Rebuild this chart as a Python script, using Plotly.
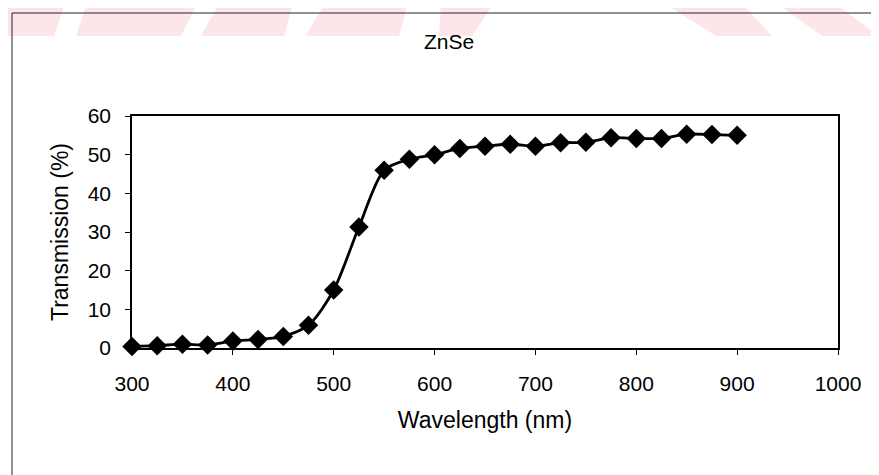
import plotly.graph_objects as go

# ---- data ----
wavelength_nm = [300, 325, 350, 375, 400, 425, 450, 475, 500, 525, 550, 575, 600,
                 625, 650, 675, 700, 725, 750, 775, 800, 825, 850, 875, 900]
transmission_pct = [0.4, 0.6, 1.0, 0.8, 1.8, 2.2, 3.0, 5.9, 15.0, 31.3, 46.0, 48.8, 50.0,
                    51.6, 52.2, 52.7, 52.2, 53.1, 53.2, 54.4, 54.2, 54.2, 55.3, 55.2, 55.0]
x_ticks = [300, 400, 500, 600, 700, 800, 900, 1000]
y_ticks = [0, 10, 20, 30, 40, 50, 60]
chart_title = "ZnSe"
x_title = "Wavelength (nm)"
y_title = "Transmission (%)"

OFF = 8  # page body margin
W, H = 879 - OFF, 475 - OFF
L, R, T, B = 132 - OFF, 41, 116 - OFF, 127
PW, PH = W - L - R, H - T - B

def px(x, y):
    """page pixel -> paper coordinates"""
    x, y = x - OFF, y - OFF
    return (x - L) / PW, (H - B - y) / PH

FONT = "Liberation Sans, Arial, sans-serif"

fig = go.Figure()
fig.add_trace(go.Scatter(
    x=wavelength_nm, y=transmission_pct, mode="lines+markers",
    line=dict(color="black", width=2.8, shape="spline", smoothing=0.8),
    marker=dict(symbol="diamond", size=15, color="black"),
    cliponaxis=False, showlegend=False, hoverinfo="x+y"))

shapes = []
# faint pink watermark stripes along the top edge
pink = "#fde6ea"
stripes = [
    ((0, 66), (0, 54)), ((88, 199), (76, 181)), ((221, 294), (201, 284)),
    ((326, 409), (306, 399)), ((441, 496), (439, 472)),
    ((659, 739), (716, 772)), ((772, 830), (822, 879)),
]
for (t0, t1), (b0, b1) in stripes:
    pts = [px(t0, 0), px(t1, 0), px(b1, 36), px(b0, 36)]
    path = "M " + " L ".join(f"{a},{b}" for a, b in pts) + " Z"
    shapes.append(dict(type="path", xref="paper", yref="paper", path=path,
                       fillcolor=pink, line=dict(width=0), layer="below"))
# outer chart frame (left and top visible)
x0, y0 = px(12, 13)
x1, y1 = px(900, 500)
shapes.append(dict(type="line", xref="paper", yref="paper", x0=x0, y0=y0, x1=x1, y1=y0,
                   line=dict(color="#222", width=1)))
shapes.append(dict(type="line", xref="paper", yref="paper", x0=x0, y0=y0, x1=x0, y1=y1,
                   line=dict(color="#222", width=1)))

fig.update_layout(
    width=W, height=H,
    margin=dict(l=L, r=R, t=T, b=B, autoexpand=False),
    paper_bgcolor="white", plot_bgcolor="white",
    font=dict(family=FONT, color="black", size=21),
    title=dict(text=chart_title, x=(449 - OFF) / W, xanchor="center", xref="container",
               y=1 - (42 - OFF) / H, yanchor="middle", yref="container",
               font=dict(size=21, family=FONT, color="black")),
    shapes=shapes,
    xaxis=dict(range=[300, 1000], tickvals=x_ticks, ticks="outside", ticklen=5,
               tickcolor="black", showline=True, linecolor="black", linewidth=1.5,
               mirror=True, showgrid=False, zeroline=False,
               tickfont=dict(size=21), ticklabelstandoff=11,
               title=dict(text=x_title, font=dict(size=23), standoff=18)),
    yaxis=dict(range=[0, 60], tickvals=y_ticks, ticks="outside", ticklen=5,
               tickcolor="black", showline=True, linecolor="black", linewidth=1.5,
               mirror=True, showgrid=False, zeroline=False,
               tickfont=dict(size=21), ticklabelstandoff=10,
               title=dict(text=y_title, font=dict(size=23), standoff=13)),
)

fig.write_html("out.html")
